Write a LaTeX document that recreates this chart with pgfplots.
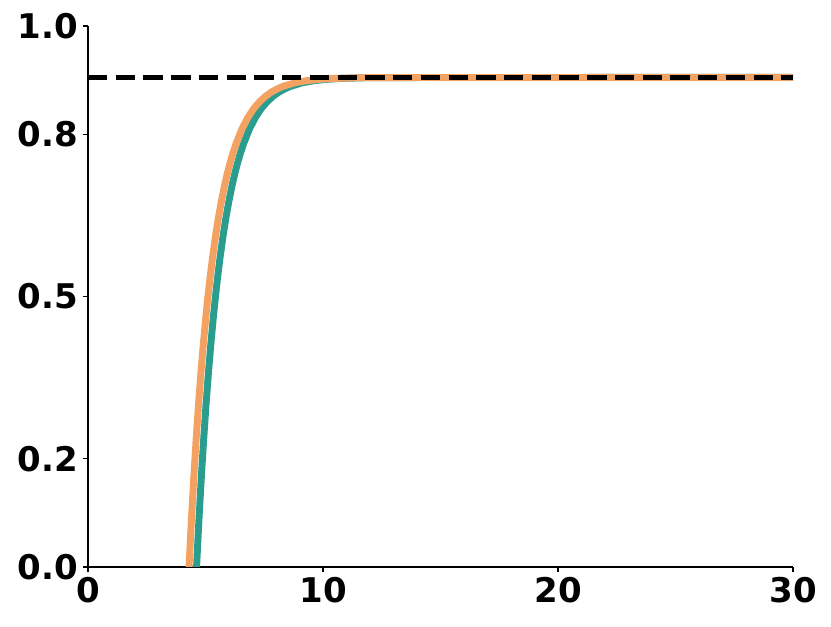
\documentclass[border=0pt]{standalone}
\usepackage{fontspec}
\setmainfont{DejaVu Sans}
\usepackage{pgfplots}
\pgfplotsset{compat=1.18}

\definecolor{tealc}{HTML}{2A9D8F}
\definecolor{orangec}{HTML}{F4A261}

\begin{document}
\begin{tikzpicture}
  \begin{axis}[
    scale only axis,
    width=528.75pt,
    height=405.75pt,
    xmin=0, xmax=30,
    ymin=0, ymax=1,
    axis lines=left,
    axis line style={-, line width=1pt},
    tick align=outside,
    major tick length=4pt,
    tick style={line width=1pt, black},
    xtick={0,10,20,30},
    ytick={0,0.2,0.5,0.8,1.0},
    yticklabels={0.0,0.2,0.5,0.8,1.0},
    ticklabel style={font=\bfseries\fontsize{25.5}{30}\selectfont},
    /pgf/number format/assume math mode=true,
    clip=true,
  ]
    % teal curve (drawn first, underneath)
    \addplot[tealc, line width=5.2pt, line join=round, mark=none] coordinates {
      (4.59,-0.0276) (4.62,0) (4.67,0.0442) (4.72,0.0861) (4.82,0.1641)
      (4.92,0.2346) (5.02,0.2984) (5.12,0.3561) (5.22,0.4083) (5.32,0.4556)
      (5.42,0.4984) (5.52,0.5370) (5.62,0.5721) (5.745,0.6112) (5.87,0.6457)
      (5.995,0.6762) (6.12,0.7031) (6.245,0.7268) (6.37,0.7477) (6.495,0.7662)
      (6.62,0.7825) (6.87,0.8096) (7.12,0.8307) (7.37,0.8472) (7.62,0.8599)
      (7.87,0.8699) (8.12,0.8777) (8.37,0.8837) (8.62,0.8884) (9.12,0.8950)
      (9.62,0.8989) (10.12,0.9013) (10.62,0.9028) (11.62,0.9042)
      (12.62,0.9047) (30,0.905)
    };
    % orange curve
    \addplot[orangec, line width=5.2pt, line join=round, mark=none] coordinates {
      (4.27,-0.0276) (4.30,0) (4.35,0.0442) (4.40,0.0861) (4.50,0.1641)
      (4.60,0.2346) (4.70,0.2984) (4.80,0.3561) (4.90,0.4083) (5.00,0.4556)
      (5.10,0.4984) (5.20,0.5370) (5.30,0.5721) (5.425,0.6112) (5.55,0.6457)
      (5.675,0.6762) (5.80,0.7031) (5.925,0.7268) (6.05,0.7477) (6.175,0.7662)
      (6.30,0.7825) (6.55,0.8096) (6.80,0.8307) (7.05,0.8472) (7.30,0.8599)
      (7.55,0.8699) (7.80,0.8777) (8.05,0.8837) (8.30,0.8884) (8.80,0.8950)
      (9.30,0.8989) (9.80,0.9013) (10.30,0.9028) (11.30,0.9042)
      (12.30,0.9047) (30,0.905)
    };
    % asymptote
    \addplot[black, line width=3.8pt, dash pattern=on 14.5pt off 6.3pt, mark=none]
      coordinates {(0,0.905) (30,0.905)};
    \coordinate (sw) at (rel axis cs:0,0);
    \coordinate (ne) at (rel axis cs:1,1);
  \end{axis}
  \path ([shift={(-66pt,-45pt)}]sw) rectangle ([shift={(28.5pt,19.5pt)}]ne);
\end{tikzpicture}
\end{document}
